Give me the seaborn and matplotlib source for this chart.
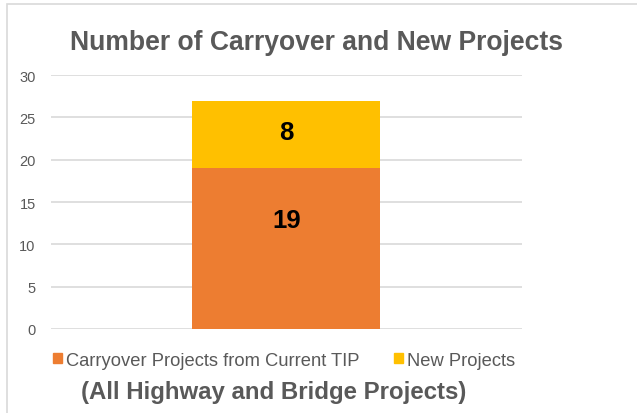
import matplotlib
matplotlib.use("Agg")
import matplotlib.pyplot as plt
import seaborn as sns
import pandas as pd
from matplotlib.patches import Patch, Rectangle

categories = ["All"]
carryover = [19]
new_projects = [8]
series_names = ["Carryover Projects from Current TIP", "New Projects"]
yticks = [0, 5, 10, 15, 20, 25, 30]
title = "Number of Carryover and New Projects"
subtitle = "(All Highway and Bridge Projects)"

sns.set_theme(style="white")
plt.rcParams["font.family"] = ["Liberation Sans", "DejaVu Sans"]

ORANGE = "#ED7D31"
YELLOW = "#FFC000"
GRAY = "#595959"

df = pd.DataFrame({"cat": categories,
                   "carry": carryover,
                   "total": [c + n for c, n in zip(carryover, new_projects)]})

fig = plt.figure(figsize=(6.37, 4.14), dpi=100)
ax = fig.add_axes([0.080, 0.203, 0.739, 0.613])

sns.barplot(data=df, x="cat", y="total", color=YELLOW, saturation=1, width=0.40,
            linewidth=0, ax=ax)
sns.barplot(data=df, x="cat", y="carry", color=ORANGE, saturation=1, width=0.40,
            linewidth=0, ax=ax)

ax.set_ylim(0, 30)
ax.set_xlim(-0.5, 0.5)
ax.set_yticks(yticks)
ax.set_yticklabels([str(t) for t in yticks], color=GRAY, fontsize=10.5)
ax.tick_params(axis="y", length=0, pad=11)
ax.set_xticks([])
ax.set_xlabel("")
ax.set_ylabel("")
for s in ax.spines.values():
    s.set_visible(False)
ax.yaxis.grid(True, color="#D9D9D9", linewidth=1.2)
ax.set_axisbelow(True)

# data labels
ax.text(0, carryover[0] * 0.675, str(carryover[0]), ha="center", va="center",
        fontsize=18.5, fontweight="bold", color="black")
ax.text(0, carryover[0] + new_projects[0] * 0.54, str(new_projects[0]), ha="center",
        va="center", fontsize=18.5, fontweight="bold", color="black")

fig.text(0.497, 0.880, title, ha="center", va="baseline", fontsize=19.1,
         fontweight="bold", color=GRAY)

handles = [Patch(color=ORANGE), Patch(color=YELLOW)]
leg = fig.legend(handles, series_names, loc="center left", bbox_to_anchor=(0.0827, 0.128),
                 ncol=2, frameon=False, fontsize=13.2, handlelength=0.5,
                 handleheight=0.5, handletextpad=0.22, columnspacing=1.9,
                 borderpad=0, borderaxespad=0)
for t in leg.get_texts():
    t.set_color(GRAY)

fig.text(0.430, 0.036, subtitle, ha="center", va="baseline", fontsize=17.3,
         fontweight="bold", color=GRAY)

# figure border (top and left visible)
fig.add_artist(Rectangle((0.011, -0.05), 1.2, 1.038, transform=fig.transFigure,
                         fill=False, edgecolor="#D9D9D9", linewidth=1.2))

fig.savefig("out.png", dpi=100)
